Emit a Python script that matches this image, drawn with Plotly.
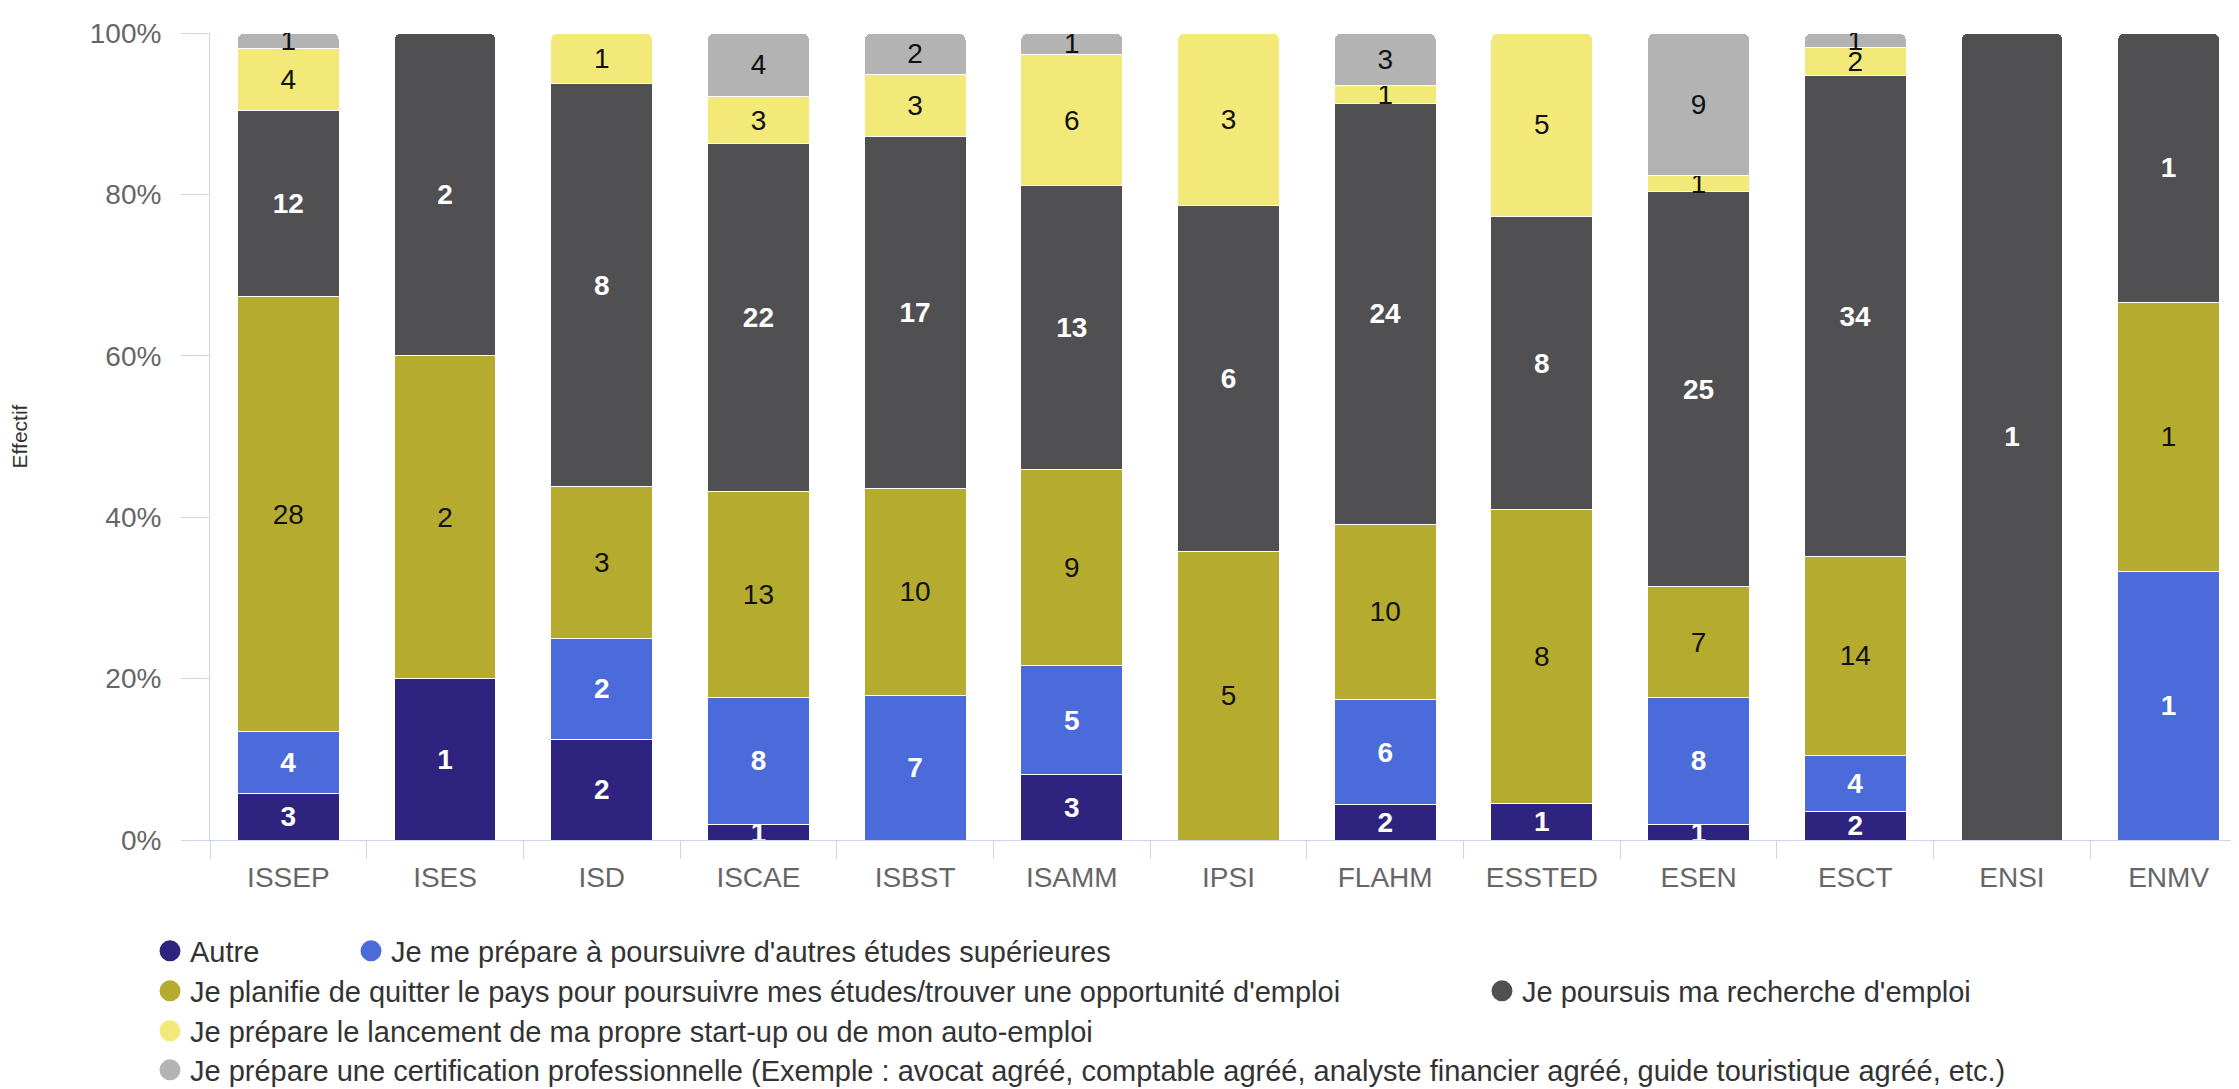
import plotly.graph_objects as go

categories = ["ISSEP", "ISES", "ISD", "ISCAE", "ISBST", "ISAMM", "IPSI",
              "FLAHM", "ESSTED", "ESEN", "ESCT", "ENSI", "ENMV"]

series_names = [
    "Autre",
    "Je me prépare à poursuivre d'autres études supérieures",
    "Je planifie de quitter le pays pour poursuivre mes études/trouver une opportunité d'emploi",
    "Je poursuis ma recherche d'emploi",
    "Je prépare le lancement de ma propre start-up ou de mon auto-emploi",
    "Je prépare une certification professionnelle (Exemple : avocat agréé, comptable agréé, analyste financier agréé, guide touristique agréé, etc.)",
]

autre =        [3, 1, 2, 1, 0, 3, 0, 2, 1, 1, 2, 0, 0]
etudes =       [4, 0, 2, 8, 7, 5, 0, 6, 0, 8, 4, 0, 1]
quitter =      [28, 2, 3, 13, 10, 9, 5, 10, 8, 7, 14, 0, 1]
recherche =    [12, 2, 8, 22, 17, 13, 6, 24, 8, 25, 34, 1, 1]
startup =      [4, 0, 1, 3, 3, 6, 3, 1, 5, 1, 2, 0, 0]
certification = [1, 0, 0, 4, 2, 1, 0, 3, 0, 9, 1, 0, 0]

y_tick_values = [0, 20, 40, 60, 80, 100]
y_tick_labels = ["0%", "20%", "40%", "60%", "80%", "100%"]

series_values = [autre, etudes, quitter, recherche, startup, certification]
colors = ["#2e2480", "#4a6bd9", "#b5ac2f", "#505052", "#f2e978", "#b3b3b3"]
text_colors = ["#ffffff", "#ffffff", "#111111", "#ffffff", "#111111", "#111111"]
text_weights = ["bold", "bold", "normal", "bold", "normal", "normal"]

FONT = "Liberation Sans, Arial, sans-serif"
W, H = 2239, 1089

# legend entry placement (symbol centre x, row centre y) in pixels
legend_symbol_x = [167, 368, 167, 1499, 167, 167]
legend_row_y = [948, 948, 988, 988, 1028, 1067]
legend_ids = ["legend"] + ["legend%d" % i for i in range(2, 7)]

fig = go.Figure()
for name, vals, col, tcol, tw in zip(series_names, series_values, colors, text_colors, text_weights):
    yv = [v if v else None for v in vals]
    tv = [str(v) if v else "" for v in vals]
    fig.add_trace(go.Bar(
        x=categories, y=yv, name=name, text=tv,
        texttemplate="%{text}", textposition="inside", insidetextanchor="middle",
        textangle=0,
        textfont=dict(color=tcol, size=28, family=FONT, weight=tw),
        marker=dict(color=col, line=dict(color="#ffffff", width=1)),
        showlegend=False, legendgroup=name, hoverinfo="x+y+name",
    ))

# legend entries with round symbols
for name, col, lg in zip(series_names, colors, legend_ids):
    fig.add_trace(go.Scatter(
        x=[None], y=[None], mode="markers", name=name, legendgroup=name,
        marker=dict(symbol="circle", size=16, color=col, line=dict(color=col, width=5)),
        showlegend=True, legend=lg,
    ))

legend_font = dict(size=29, color="#333333", family=FONT)
legend_layouts = {}
for lg, sx, ry in zip(legend_ids, legend_symbol_x, legend_row_y):
    legend_layouts[lg] = dict(
        orientation="h", xref="container", yref="container",
        x=(sx - 25) / W, xanchor="left",
        y=1 - (ry - 5) / H, yanchor="middle",
        font=legend_font, bgcolor="rgba(0,0,0,0)",
    )

fig.update_layout(
    barmode="stack", barnorm="percent", bargap=0.35, barcornerradius=7,
    width=W, height=H,
    margin=dict(l=202, r=0, t=25, b=257),
    paper_bgcolor="#ffffff", plot_bgcolor="#ffffff",
    font=dict(family=FONT, size=28, color="#666666"),
    uniformtext=dict(minsize=28, mode="show"),
    **legend_layouts,
)
fig.update_xaxes(
    type="category", range=[-0.5, 12.5],
    showline=True, linecolor="#ccd6eb", linewidth=1,
    ticks="outside", tickson="boundaries", ticklen=18, tickcolor="#ccd6eb",
    showgrid=False, tickfont=dict(size=28, color="#666666"),
    ticklabelstandoff=12,
)
fig.update_yaxes(
    range=[0, 100], tickmode="array", tickvals=y_tick_values, ticktext=y_tick_labels,
    showline=True, linecolor="#ccd6eb", linewidth=1,
    ticks="outside", ticklen=28, tickcolor="#ccd6eb",
    showgrid=False, zeroline=False, tickfont=dict(size=28, color="#666666"),
    ticklabelstandoff=14,
    title=dict(text="Effectif", font=dict(size=21, color="#333333"), standoff=63),
)

fig.write_html("out.html")
